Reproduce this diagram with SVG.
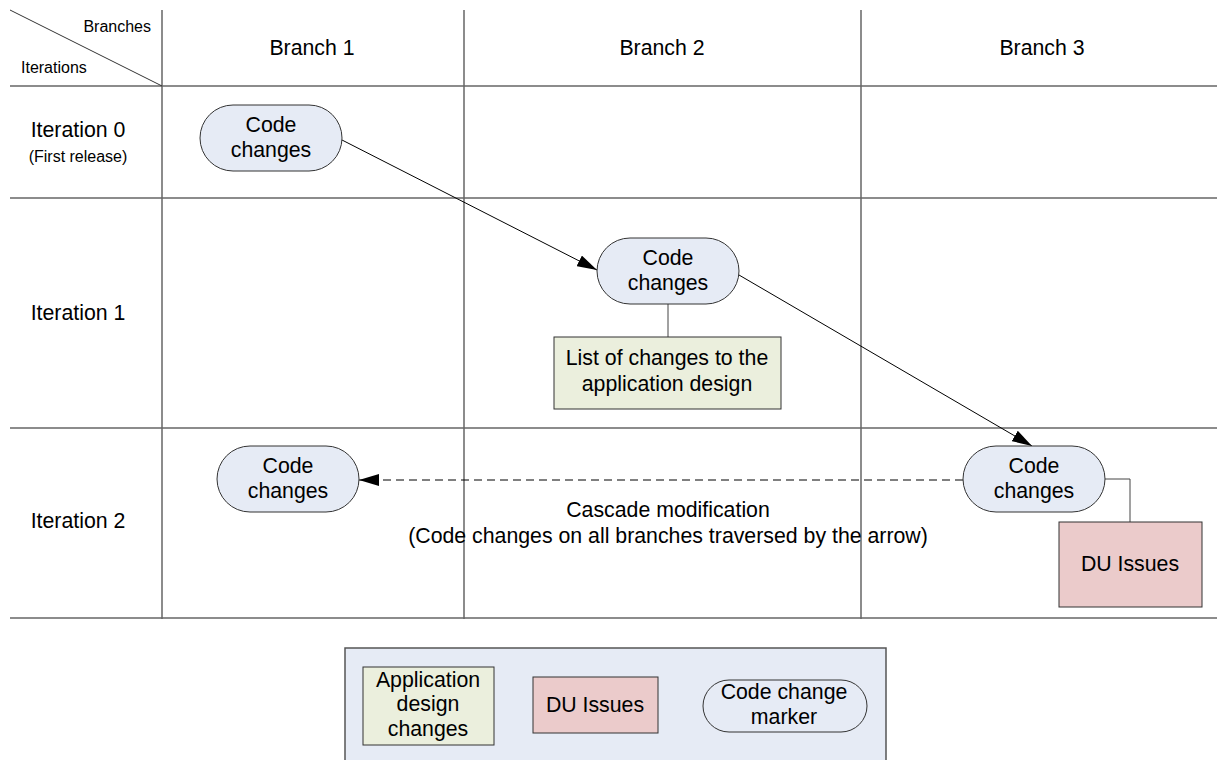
<svg xmlns="http://www.w3.org/2000/svg" width="1217" height="760" viewBox="0 0 1217 760">
  <style>
    text { font-family: "Liberation Sans", Arial, sans-serif; fill: #000; }
    .grid { stroke: #666; stroke-width: 1.5; fill: none; }
    .hdr { font-size: 21.3px; text-anchor: middle; }
    .small { font-size: 16px; }
    .lbl { font-size: 21.3px; text-anchor: middle; }
    .pill { fill: #e6ebf5; stroke: #333; stroke-width: 1; }
    .green { fill: #ebefdd; stroke: #333; stroke-width: 1; }
    .red { fill: #ebcbcb; stroke: #333; stroke-width: 1; }
    .link { stroke: #000; stroke-width: 1; fill: none; }
    .tie { stroke: #444; stroke-width: 1; fill: none; }
  </style>
  <defs>
    <marker id="arrow" viewBox="0 0 20 12" refX="20" refY="6" markerWidth="20" markerHeight="12" markerUnits="userSpaceOnUse" orient="auto">
      <path d="M0,0 L20,6 L0,12 z" fill="#000"/>
    </marker>
  </defs>
  <rect width="1217" height="760" fill="#fff"/>

  <!-- table grid -->
  <g id="grid">
    <line class="grid" x1="10" y1="86" x2="1217" y2="86"/>
    <line class="grid" x1="10" y1="198" x2="1217" y2="198"/>
    <line class="grid" x1="10" y1="428" x2="1217" y2="428"/>
    <line class="grid" x1="10" y1="618" x2="1217" y2="618"/>
    <line class="grid" x1="162" y1="10" x2="162" y2="619"/>
    <line class="grid" x1="464" y1="10" x2="464" y2="619"/>
    <line class="grid" x1="861" y1="10" x2="861" y2="619"/>
    <line stroke="#333" stroke-width="1" x1="10" y1="10" x2="162" y2="86"/>
  </g>

  <!-- headers -->
  <g id="headers">
    <text class="small" x="151" y="32" text-anchor="end">Branches</text>
    <text class="small" x="21" y="73">Iterations</text>
    <text class="hdr" x="312" y="55">Branch 1</text>
    <text class="hdr" x="662" y="55">Branch 2</text>
    <text class="hdr" x="1042" y="55">Branch 3</text>
    <text class="hdr" x="78" y="137">Iteration 0</text>
    <text class="small" x="78" y="162" text-anchor="middle">(First release)</text>
    <text class="hdr" x="78" y="320">Iteration 1</text>
    <text class="hdr" x="78" y="528">Iteration 2</text>
  </g>

  <!-- connectors -->
  <g id="connectors">
    <line class="link" x1="342" y1="140" x2="597" y2="270" marker-end="url(#arrow)"/>
    <line class="link" x1="739" y1="275" x2="1032" y2="446" marker-end="url(#arrow)"/>
    <line class="link" x1="963" y1="480" x2="359" y2="480" stroke-dasharray="8,5" marker-end="url(#arrow)"/>
    <line class="tie" x1="668" y1="304" x2="668" y2="337"/>
    <polyline class="tie" points="1105,479 1130,479 1130,522"/>
  </g>

  <g id="code0">
    <rect class="pill" x="200" y="105" width="142" height="66" rx="33"/>
    <text class="lbl" x="271" y="132">Code</text>
    <text class="lbl" x="271" y="157">changes</text>
  </g>
  <g id="code1">
    <rect class="pill" x="597" y="238" width="142" height="66" rx="33"/>
    <text class="lbl" x="668" y="265">Code</text>
    <text class="lbl" x="668" y="290">changes</text>
  </g>
  <g id="designList">
    <rect class="green" x="554" y="337" width="227" height="72"/>
    <text class="lbl" x="667" y="365">List of changes to the</text>
    <text class="lbl" x="667" y="391">application design</text>
  </g>
  <g id="code2b3">
    <rect class="pill" x="963" y="446" width="142" height="66" rx="33"/>
    <text class="lbl" x="1034" y="473">Code</text>
    <text class="lbl" x="1034" y="498">changes</text>
  </g>
  <g id="duIssues">
    <rect class="red" x="1059" y="522" width="143" height="85"/>
    <text class="lbl" x="1130" y="571">DU Issues</text>
  </g>
  <g id="code2b1">
    <rect class="pill" x="217" y="446" width="142" height="66" rx="33"/>
    <text class="lbl" x="288" y="473">Code</text>
    <text class="lbl" x="288" y="498">changes</text>
  </g>
  <g id="cascadeLabel">
    <text class="lbl" x="668" y="517">Cascade modification</text>
    <text class="lbl" x="668" y="543">(Code changes on all branches traversed by the arrow)</text>
  </g>

  <!-- legend -->
  <g id="legend">
    <rect x="345" y="648" width="541" height="120" fill="#e6ebf5" stroke="#555" stroke-width="1.5"/>
    <rect class="green" x="363" y="667" width="131" height="78"/>
    <text class="lbl" x="428" y="687">Application</text>
    <text class="lbl" x="428" y="711">design</text>
    <text class="lbl" x="428" y="736">changes</text>
    <rect class="red" x="533" y="677" width="125" height="56"/>
    <text class="lbl" x="595" y="712">DU Issues</text>
    <rect class="pill" x="703" y="680" width="164" height="52" rx="26"/>
    <text class="lbl" x="784" y="699">Code change</text>
    <text class="lbl" x="784" y="724">marker</text>
  </g>
</svg>
